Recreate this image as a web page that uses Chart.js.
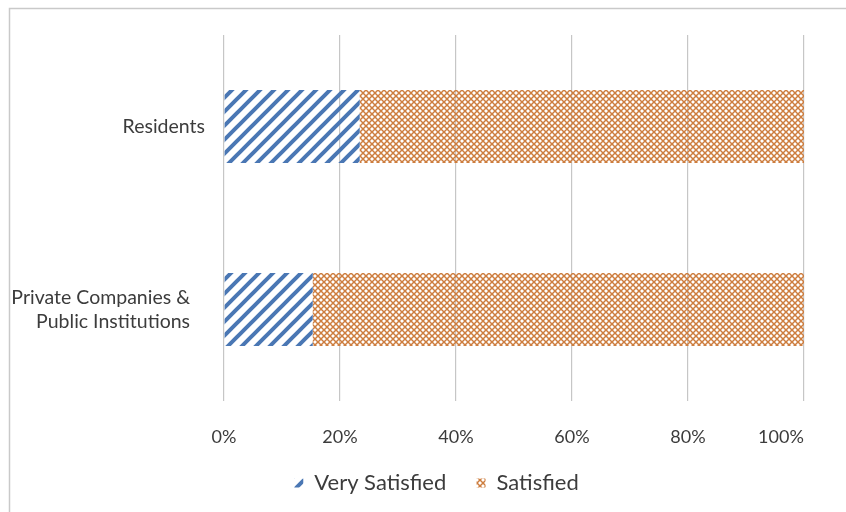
<!DOCTYPE html>
<html>
<head>
<meta charset="utf-8">
<script src="https://cdn.jsdelivr.net/npm/chart.js@4"></script>
<style>
  html, body { margin: 0; padding: 0; background: #ffffff; }
  #wrap { width: 846px; height: 512px; }
</style>
</head>
<body>
<div id="wrap"><canvas id="c" width="846" height="512"></canvas></div>
<script>
// Satisfaction shares (percent of respondents)
const categories = ['Residents', ['Private Companies &', 'Public Institutions']];
const seriesNames = ['Very Satisfied', 'Satisfied'];
const verySatisfied = [23.4, 15.3];
const satisfied = [76.6, 84.7];
const xTickValues = [0, 20, 40, 60, 80, 100];

const TEXT = '#3c3c3c';
const FONT = 'Lato, "Open Sans", sans-serif';

const canvas = document.getElementById('c');
const ctx = canvas.getContext('2d');

// Blue upward-diagonal hatch
function stripePattern() {
  const s = 14;
  const c = document.createElement('canvas');
  c.width = s; c.height = s;
  const g = c.getContext('2d');
  g.strokeStyle = '#4a77b4';
  g.lineWidth = 4;
  g.beginPath();
  g.moveTo(-s / 2, s / 2); g.lineTo(s / 2, -s / 2);
  g.moveTo(0, s); g.lineTo(s, 0);
  g.moveTo(s / 2, s * 1.5); g.lineTo(s * 1.5, s / 2);
  g.stroke();
  return ctx.createPattern(c, 'repeat');
}

// Orange dotted diamond lattice
function diamondPattern() {
  const s = 6;
  const c = document.createElement('canvas');
  c.width = s; c.height = s;
  const g = c.getContext('2d');
  g.strokeStyle = 'rgb(205,125,62)';
  g.lineWidth = 1.5;
  g.beginPath();
  g.moveTo(0, 0); g.lineTo(s, s);
  g.moveTo(0, s); g.lineTo(s, 0);
  g.stroke();
  return ctx.createPattern(c, 'repeat');
}

const blueHatch = stripePattern();
const orangeDots = diamondPattern();

// Light frame around the whole chart; legend nudged to sit under the plot
const framePlugin = {
  id: 'frame',
  afterLayout(chart) {
    const lg = chart.legend;
    if (lg) { lg.left += 30; lg.right += 30; }
  },
  beforeDraw(chart) {
    const g = chart.ctx;
    g.save();
    g.fillStyle = '#ffffff';
    g.fillRect(0, 0, chart.width, chart.height);
    g.strokeStyle = '#c9c9c9';
    g.lineWidth = 1.5;
    g.strokeRect(9.5, 8.5, chart.width + 10, chart.height + 10);
    g.restore();
  }
};

new Chart(ctx, {
  type: 'bar',
  data: {
    labels: categories,
    datasets: [
      { label: seriesNames[0], data: verySatisfied, backgroundColor: blueHatch, borderWidth: 0 },
      { label: seriesNames[1], data: satisfied, backgroundColor: orangeDots, borderWidth: 0 }
    ]
  },
  options: {
    indexAxis: 'y',
    responsive: false,
    animation: false,
    devicePixelRatio: 1,
    categoryPercentage: 1,
    barPercentage: 0.4,
    layout: { padding: { top: 35, right: 42, bottom: 8, left: 9 } },
    plugins: {
      legend: {
        position: 'bottom',
        labels: {
          color: TEXT,
          font: { family: FONT, size: 22 },
          boxWidth: 9,
          boxHeight: 9,
          padding: 19,
          generateLabels(chart) {
            const items = Chart.defaults.plugins.legend.labels.generateLabels(chart);
            // a little extra room after the first entry
            items[0].text = items[0].text + '  ';
            return items;
          }
        }
      },
      tooltip: { enabled: false }
    },
    scales: {
      x: {
        stacked: true,
        min: 0,
        max: 100,
        afterBuildTicks(scale) { scale.ticks = xTickValues.map(v => ({ value: v })); },
        afterFit(scale) {
          scale.height = 52;
          scale.paddingLeft = 0; scale.paddingRight = 0;
        },
        ticks: {
          color: TEXT,
          font: { family: FONT, size: 18 },
          padding: 25,
          callback(v) {
            // the end label is kept inside the frame, flush with its gridline
            return v === 100 ? v + '%' + ' '.repeat(10) : v + '%';
          }
        },
        grid: { color: '#c6c6c6', lineWidth: 1.2, drawTicks: false },
        border: { display: false }
      },
      y: {
        stacked: true,
        afterFit(scale) {
          scale.width = 215;
          scale.paddingTop = 0; scale.paddingBottom = 0;
        },
        ticks: {
          color: TEXT,
          font: { family: FONT, size: 19.5, lineHeight: 1.23 },
          padding: 19,
          callback(value) {
            const lbl = categories[value];
            // wrapped labels sit a little further from the axis
            return Array.isArray(lbl) ? lbl.map(t => t + '   ') : lbl;
          }
        },
        grid: { display: false, drawTicks: false },
        border: { display: false }
      }
    }
  },
  plugins: [framePlugin]
});
</script>
</body>
</html>
